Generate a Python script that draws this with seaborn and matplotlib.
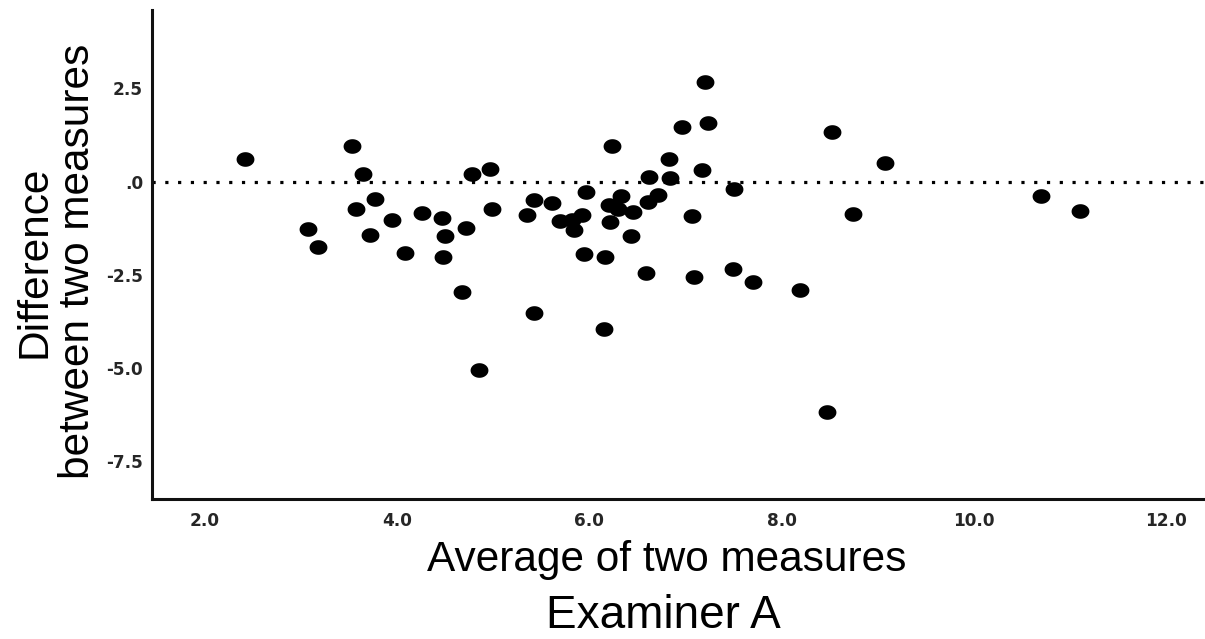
import numpy as np
import pandas as pd
import matplotlib
matplotlib.use("Agg")
import matplotlib.pyplot as plt
from matplotlib.path import Path
import seaborn as sns

# ---- data ----
avg_values = [2.42, 3.07, 3.18, 3.53, 3.64, 3.57, 3.77, 3.72, 3.95, 4.08,
              4.26, 4.47, 4.50, 4.48, 4.72, 4.67, 4.78, 4.97, 4.99, 4.85,
              5.35, 5.42, 5.42, 5.61, 5.69, 5.82, 5.84, 5.92, 5.94, 5.96,
              6.16, 6.15, 6.23, 6.20, 6.21, 6.30, 6.33, 6.45, 6.43, 6.62,
              6.61, 6.59, 6.71, 6.83, 6.84, 6.96, 7.07, 7.09, 7.17, 7.20,
              7.23, 7.50, 7.49, 7.70, 8.19, 8.52, 8.74, 9.08, 8.47, 10.70,
              11.10]
diff_values = [0.60, -1.26, -1.75, 0.95, 0.20, -0.74, -0.47, -1.42, -1.04, -1.92,
               -0.84, -0.97, -1.47, -2.01, -1.24, -2.95, 0.19, 0.34, -0.74, -5.05,
               -0.90, -3.53, -0.50, -0.58, -1.05, -1.03, -1.30, -0.90, -1.93, -0.27,
               -2.02, -3.95, 0.96, -0.62, -1.09, -0.74, -0.38, -0.81, -1.47, 0.13,
               -0.56, -2.44, -0.35, 0.60, 0.10, 1.45, -0.92, -2.57, 0.32, 2.66,
               1.57, -0.21, -2.35, -2.68, -2.91, 1.33, -0.88, 0.50, -6.17, -0.39,
               -0.79]
x_ticks = [2.0, 4.0, 6.0, 8.0, 10.0, 12.0]
x_tick_labels = ["2.0", "4.0", "6.0", "8.0", "10.0", "12.0"]
y_ticks = [2.5, 0.0, -2.5, -5.0, -7.5]
y_tick_labels = ["2.5", ".0", "-2.5", "-5.0", "-7.5"]
x_label = "Average of two measures"
y_label = "Difference\nbetween two measures"
sub_title = "Examiner A"

df = pd.DataFrame({"avg": avg_values, "diff": diff_values})

sns.set_style("white")
plt.rcParams["font.family"] = ["Liberation Sans", "DejaVu Sans"]

fig = plt.figure(figsize=(12.05, 6.39), dpi=100)
ax = fig.add_axes([152 / 1205, 140 / 639, 1053 / 1205, 489 / 639])

# slightly wide elliptical marker (as in the reference)
t = np.linspace(0, 2 * np.pi, 60)
ellipse = Path(np.column_stack([np.cos(t), 0.82 * np.sin(t)]), closed=True)

sns.scatterplot(data=df, x="avg", y="diff", ax=ax, marker=ellipse, s=165,
                color="black", edgecolor="black", linewidth=0, legend=False)

ax.axhline(0, color="black", lw=2.3, linestyle=(0, (1, 3.0)),
           dash_capstyle="butt", zorder=1)

ax.set_xlim(1.448, 12.406)
ax.set_ylim(-8.51, 4.6)

ax.set_xticks(x_ticks)
ax.set_xticklabels(x_tick_labels)
ax.set_yticks(y_ticks)
ax.set_yticklabels(y_tick_labels)
ax.tick_params(axis="both", length=0)
ax.tick_params(axis="x", pad=9.5)
ax.tick_params(axis="y", pad=6.5)
for lab in ax.get_xticklabels() + ax.get_yticklabels():
    lab.set_fontfamily("DejaVu Sans")
    lab.set_fontweight("bold")
    lab.set_fontsize(12.2)
    lab.set_color("#262626")

sns.despine(ax=ax, top=True, right=True)
for side in ("left", "bottom"):
    ax.spines[side].set_linewidth(2.2)
    ax.spines[side].set_color("#111111")

ax.set_xlabel(x_label, fontsize=30.5, color="black")
ax.xaxis.set_label_coords((667 - 152) / 1053, -0.084)
ax.set_ylabel(y_label, fontsize=30.5, color="black", linespacing=1.1)
ax.yaxis.set_label_coords((98 - 152) / 1053, 0.485)

fig.text(663 / 1205, 11 / 639, sub_title, fontsize=33, ha="center",
         va="baseline", color="black")

fig.savefig("out.png", dpi=100, facecolor="white")
